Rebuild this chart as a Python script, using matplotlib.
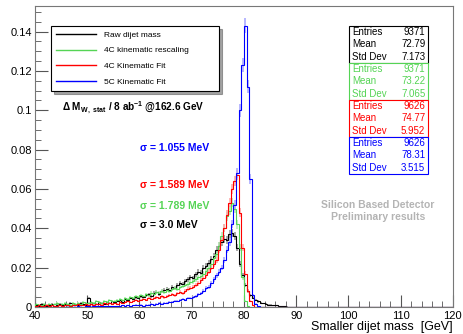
import numpy as np
import matplotlib
matplotlib.use('Agg')
import matplotlib.pyplot as plt
from matplotlib.lines import Line2D
from matplotlib.patches import Rectangle

plt.rcParams['font.family'] = ['Liberation Sans', 'DejaVu Sans']
plt.rcParams['mathtext.fontset'] = 'custom'
plt.rcParams['mathtext.rm'] = 'Liberation Sans'
plt.rcParams['mathtext.bf'] = 'Liberation Sans:bold'

# 0.5 GeV bins starting at 40 GeV (40 - 90 GeV)
bin_lo = 40.0
bin_w = 0.5

raw_mass = [
    0.0010, 0.0005, 0.0015, 0.0010, 0.0005, 0.0010, 0.0015, 0.0005, 0.0010, 0.0015,
    0.0010, 0.0015, 0.0010, 0.0020, 0.0010, 0.0015, 0.0010, 0.0020, 0.0015, 0.0010,
    0.0045, 0.0015, 0.0020, 0.0015, 0.0025, 0.0020, 0.0015, 0.0025, 0.0020, 0.0030,
    0.0025, 0.0030, 0.0035, 0.0025, 0.0040, 0.0035, 0.0045, 0.0040, 0.0050, 0.0045,
    0.0055, 0.0050, 0.0060, 0.0065, 0.0055, 0.0070, 0.0075, 0.0065, 0.0080, 0.0085,
    0.0090, 0.0085, 0.0100, 0.0095, 0.0110, 0.0120, 0.0115, 0.0130, 0.0140, 0.0150,
    0.0145, 0.0165, 0.0180, 0.0175, 0.0200, 0.0210, 0.0225, 0.0245, 0.0260, 0.0290,
    0.0310, 0.0330, 0.0345, 0.0340, 0.0370, 0.0375, 0.0360, 0.0300, 0.0220, 0.0160,
    0.0110, 0.0080, 0.0060, 0.0045, 0.0035, 0.0028, 0.0022, 0.0018, 0.0014, 0.0012,
    0.0010, 0.0008, 0.0008, 0.0005, 0.0004, 0.0003, 0.0002, 0.0000, 0.0000, 0.0000,
]
rescale_4c = [
    0.0015, 0.0010, 0.0010, 0.0015, 0.0010, 0.0015, 0.0010, 0.0015, 0.0020, 0.0010,
    0.0015, 0.0020, 0.0015, 0.0010, 0.0020, 0.0015, 0.0020, 0.0015, 0.0025, 0.0020,
    0.0020, 0.0025, 0.0020, 0.0030, 0.0025, 0.0020, 0.0030, 0.0025, 0.0035, 0.0030,
    0.0030, 0.0035, 0.0040, 0.0035, 0.0045, 0.0040, 0.0050, 0.0045, 0.0055, 0.0050,
    0.0060, 0.0055, 0.0065, 0.0060, 0.0070, 0.0065, 0.0075, 0.0070, 0.0080, 0.0075,
    0.0085, 0.0080, 0.0090, 0.0095, 0.0090, 0.0100, 0.0105, 0.0110, 0.0115, 0.0125,
    0.0130, 0.0140, 0.0150, 0.0155, 0.0170, 0.0185, 0.0200, 0.0220, 0.0250, 0.0270,
    0.0310, 0.0360, 0.0400, 0.0460, 0.0490, 0.0530, 0.0500, 0.0420, 0.0300, 0.0150,
    0.0030, 0.0005, 0.0000, 0.0000, 0.0000, 0.0000, 0.0000, 0.0000, 0.0000, 0.0000,
    0.0000, 0.0000, 0.0000, 0.0000, 0.0000, 0.0000, 0.0000, 0.0000, 0.0000, 0.0000,
]
fit_4c = [
    0.0005, 0.0010, 0.0005, 0.0005, 0.0010, 0.0005, 0.0010, 0.0005, 0.0005, 0.0010,
    0.0005, 0.0010, 0.0010, 0.0005, 0.0010, 0.0010, 0.0015, 0.0010, 0.0010, 0.0015,
    0.0010, 0.0015, 0.0010, 0.0015, 0.0015, 0.0010, 0.0020, 0.0015, 0.0020, 0.0015,
    0.0020, 0.0015, 0.0025, 0.0020, 0.0025, 0.0030, 0.0025, 0.0030, 0.0035, 0.0030,
    0.0035, 0.0040, 0.0035, 0.0045, 0.0040, 0.0045, 0.0050, 0.0045, 0.0055, 0.0050,
    0.0055, 0.0060, 0.0065, 0.0060, 0.0070, 0.0075, 0.0070, 0.0080, 0.0090, 0.0095,
    0.0100, 0.0110, 0.0120, 0.0135, 0.0145, 0.0160, 0.0180, 0.0200, 0.0220, 0.0240,
    0.0290, 0.0340, 0.0400, 0.0470, 0.0530, 0.0600, 0.0640, 0.0670, 0.0480, 0.0300,
    0.0170, 0.0080, 0.0030, 0.0008, 0.0000, 0.0000, 0.0000, 0.0000, 0.0000, 0.0000,
    0.0000, 0.0000, 0.0000, 0.0000, 0.0000, 0.0000, 0.0000, 0.0000, 0.0000, 0.0000,
]
fit_5c = [
    0.0000, 0.0000, 0.0002, 0.0000, 0.0000, 0.0002, 0.0000, 0.0000, 0.0002, 0.0000,
    0.0002, 0.0000, 0.0002, 0.0002, 0.0000, 0.0002, 0.0003, 0.0002, 0.0000, 0.0003,
    0.0003, 0.0002, 0.0003, 0.0005, 0.0003, 0.0003, 0.0005, 0.0003, 0.0005, 0.0005,
    0.0005, 0.0003, 0.0005, 0.0008, 0.0005, 0.0008, 0.0005, 0.0008, 0.0010, 0.0008,
    0.0010, 0.0005, 0.0010, 0.0010, 0.0015, 0.0010, 0.0015, 0.0020, 0.0015, 0.0020,
    0.0020, 0.0025, 0.0025, 0.0030, 0.0030, 0.0035, 0.0040, 0.0035, 0.0045, 0.0045,
    0.0050, 0.0055, 0.0065, 0.0070, 0.0080, 0.0095, 0.0100, 0.0120, 0.0140, 0.0160,
    0.0180, 0.0200, 0.0240, 0.0290, 0.0330, 0.0420, 0.0520, 0.0680, 0.1000, 0.1230,
    0.1430, 0.1120, 0.0650, 0.0060, 0.0015, 0.0005, 0.0000, 0.0000, 0.0000, 0.0000,
    0.0000, 0.0000, 0.0000, 0.0000, 0.0000, 0.0000, 0.0000, 0.0000, 0.0000, 0.0000,
]

labels = ['Raw dijet mass', '4C kinematic rescaling', '4C Kinematic Fit', '5C Kinematic Fit']
colors = ['black', '#55d455', '#ff0000', '#0000ff']
err_colors = ['#999999', '#b8ecb8', '#ffaaaa', '#aaaaff']
entries = [9371, 9371, 9626, 9626]
means = ['72.79', '73.22', '74.77', '78.31']
std_devs = ['7.173', '7.065', '5.952', '3.515']
sigma_txt = ['3.0', '1.789', '1.589', '1.055']


def main():
    fig = plt.figure(figsize=(4.64, 3.34), dpi=100)
    ax = fig.add_axes([0.0754, 0.081, 0.9006, 0.901])

    series = [raw_mass, rescale_4c, fit_4c, fit_5c]
    for vals, col, ecol, n in zip(series, colors, err_colors, entries):
        v = np.array(vals + [0.0] * (160 - len(vals)))
        edges = bin_lo + bin_w * np.arange(len(v) + 1)
        centers = 0.5 * (edges[1:] + edges[:-1])
        err = np.sqrt(v / n)
        ax.errorbar(centers, v, yerr=err, fmt='none', ecolor=ecol, elinewidth=1.2, zorder=2)
        ax.stairs(v, edges, color=col, lw=0.8, zorder=3)

    ax.set_xlim(40, 120)
    ax.set_ylim(0, 0.153)
    ax.set_xticks(np.arange(40, 121, 10))
    ax.set_xticks(np.arange(40, 121, 2), minor=True)
    ax.set_yticks(np.arange(0, 0.141, 0.02))
    ax.set_yticklabels(['0', '0.02', '0.04', '0.06', '0.08', '0.1', '0.12', '0.14'])
    ax.set_yticks(np.arange(0, 0.151, 0.005), minor=True)
    ax.tick_params(direction='in', which='both', labelsize=8, color='#555555', top=False, right=False)
    ax.tick_params(which='major', length=9, pad=2)
    ax.tick_params(axis='x', which='major', pad=3)
    ax.tick_params(which='minor', length=4.5)
    for s in ax.spines.values():
        s.set_color('#777777')
    ax.set_xlabel('Smaller dijet mass  [GeV]', loc='right', fontsize=9, labelpad=0)

    handles = [Line2D([], [], color=c, lw=1) for c in colors]
    leg = ax.legend(handles, labels, loc='upper left', bbox_to_anchor=(0.038, 0.748, 0.402, 0.186),
                    mode='expand', fontsize=6, frameon=True, fancybox=False, shadow=True,
                    handlelength=4.8, handletextpad=1.0, borderaxespad=0, labelspacing=0.95,
                    borderpad=0.6)
    leg.get_frame().set_edgecolor('black')
    leg.get_frame().set_linewidth(0.8)

    # stat boxes
    x0, x1 = 0.751, 0.940
    h = 0.123
    top = 0.934
    for i in range(4):
        y_top = top - i * h
        ax.add_patch(Rectangle((x0, y_top - h), x1 - x0, h, transform=ax.transAxes,
                               fill=True, facecolor='white', edgecolor=colors[i], lw=0.8, zorder=5))
        rows = [('Entries', str(entries[i])), ('Mean', means[i]), ('Std Dev', std_devs[i])]
        for j, (k, val) in enumerate(rows):
            y = y_top - (j + 0.5) * h / 3
            ax.text(x0 + 0.008, y, k, transform=ax.transAxes, fontsize=7, color=colors[i],
                    va='center', ha='left', zorder=6)
            ax.text(x1 - 0.006, y, val, transform=ax.transAxes, fontsize=7, color=colors[i],
                    va='center', ha='right', zorder=6)

    ax.text(0.065, 0.661, r'Δ M$_{\mathbf{W,\ stat}}$ / 8 ab$^{\mathbf{-1}}$ @162.6 GeV',
            transform=ax.transAxes, fontsize=7.2, fontweight='bold', va='center')
    sig_y = [0.272, 0.336, 0.405, 0.528]
    for s, c, y in zip(sigma_txt, colors, sig_y):
        ax.text(0.251, y, 'σ = ' + s + ' MeV', transform=ax.transAxes, fontsize=7.5,
                fontweight='bold', color=c, va='center')

    ax.text(0.821, 0.339, 'Silicon Based Detector', transform=ax.transAxes, fontsize=7.5,
            fontweight='bold', color='#b4b4b4', ha='center', va='center')
    ax.text(0.821, 0.299, 'Preliminary results', transform=ax.transAxes, fontsize=7.5,
            fontweight='bold', color='#b4b4b4', ha='center', va='center')

    fig.savefig('out.png', dpi=100)


if __name__ == "__main__":
    main()
